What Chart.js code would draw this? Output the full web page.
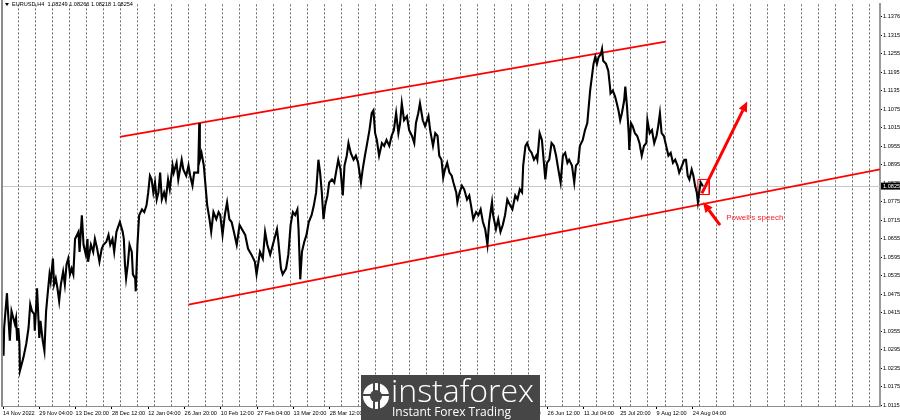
<!DOCTYPE html>
<html>
<head>
<meta charset="utf-8">
<title>EURUSD H4</title>
<script src="https://cdn.jsdelivr.net/npm/chart.js@4.4.0/dist/chart.umd.min.js"></script>
<style>
  html, body { margin: 0; padding: 0; background: #fff; }
</style>
</head>
<body>
<canvas id="price-chart" width="900" height="420"></canvas>
<script>
"use strict";

// H4 bars counted from 14 Nov 2022 and the price
const bars = [
  0, 1, 2, 7, 8, 12, 15, 21, 23, 25, 27, 29, 30, 36, 41, 45, 48, 51, 55, 56,
  58, 60, 64, 66, 70, 73, 76, 78, 82, 84, 88, 90, 93, 96, 99, 102, 106, 109, 112, 115,
  118, 121, 124, 127, 133, 135, 139, 142, 146, 149, 150, 155, 159, 162, 166, 170, 174, 177, 182, 186,
  189, 193, 196, 200, 206, 211, 213, 215, 217, 220, 223, 227, 229, 233, 234, 237, 238, 240, 245, 249,
  253, 256, 259, 262, 265, 268, 271, 274, 277, 280, 284, 287, 291, 294, 299, 301, 306, 309, 315, 318,
  323, 327, 330, 334, 337, 344, 346, 347, 350, 354, 358, 360, 364, 367, 371, 376, 380, 383,
  387, 391, 395, 399, 403, 407, 412, 417, 421, 427, 432, 438, 444, 447, 453, 458, 462, 466, 471, 477,
  483, 485, 490, 493, 499, 503, 507, 511, 515, 519, 521, 524, 527, 531, 535, 539, 544, 548, 552, 556,
  559, 562, 565, 568, 572, 575, 580, 584, 587, 591, 595, 599, 602, 606, 609, 613, 618, 622, 626, 631,
  634, 638, 642, 646, 650, 653, 656, 659, 663, 668, 672, 676, 681, 685, 689, 693, 697, 700, 703, 707,
  712, 716, 721, 725, 728, 732, 735, 740, 744, 750,
  753, 758, 762, 766, 769, 773, 776, 779, 783, 787, 791, 794, 799, 801, 805, 809, 813, 818, 822, 825,
  829, 834, 838, 842, 846, 850, 854, 857, 862, 864, 869, 873, 877, 881, 885, 889, 894, 898, 903, 907,
  911, 915, 917, 921, 924, 928, 932, 936, 940, 942, 946, 950, 953, 956, 959, 963, 967, 971, 975, 979,
  983, 987, 991, 995, 998, 1003, 1007, 1010, 1014, 1017, 1022, 1026, 1030,
  1035, 1041, 1044, 1047, 1050, 1054, 1056, 1058, 1063, 1067, 1070, 1071, 1075, 1079, 1082, 1085, 1088, 1091, 1095, 1097,
  1100, 1103, 1104, 1107, 1110, 1114, 1118, 1122, 1126, 1130, 1134, 1136, 1140, 1144, 1148, 1152, 1155, 1158, 1161, 1165,
  1169, 1173, 1177, 1181, 1185, 1189, 1192, 1197, 1201, 1204, 1207, 1210, 1214, 1217, 1220, 1223, 1225, 1228, 1230, 1234
];
const prices = [
  1.0324, 1.0275, 1.0365, 1.0478, 1.0442, 1.0324, 1.0420, 1.0378, 1.0397, 1.0324, 1.0365, 1.0314, 1.0227, 1.0269, 1.0314, 1.0365, 1.0442, 1.0420, 1.0410, 1.0356,
  1.0420, 1.0494, 1.0333, 1.0388, 1.0324, 1.0291, 1.0420, 1.0461, 1.0539, 1.0516, 1.0590, 1.0506, 1.0526, 1.0494, 1.0452, 1.0506, 1.0548, 1.0506, 1.0571, 1.0590,
  1.0539, 1.0558, 1.0539, 1.0654, 1.0677, 1.0612, 1.0731, 1.0635, 1.0603, 1.0654, 1.0580, 1.0635, 1.0612, 1.0654, 1.0622, 1.0580, 1.0622, 1.0635, 1.0644, 1.0667,
  1.0635, 1.0654, 1.0612, 1.0677, 1.0709, 1.0677, 1.0654, 1.0571, 1.0526, 1.0571, 1.0635, 1.0612, 1.0539, 1.0526, 1.0484, 1.0635, 1.0667, 1.0731, 1.0750, 1.0741,
  1.0763, 1.0805, 1.0859, 1.0847, 1.0805, 1.0837, 1.0782, 1.0805, 1.0869, 1.0782, 1.0805, 1.0782, 1.0847, 1.0815, 1.0892, 1.0869, 1.0901, 1.0847, 1.0911, 1.0879,
  1.0859, 1.0892, 1.0859, 1.0827, 1.0869, 1.0869, 1.1030, 1.0911, 1.0933, 1.0892, 1.0805, 1.0763, 1.0718, 1.0677, 1.0741, 1.0718, 1.0741, 1.0731,
  1.0667, 1.0731, 1.0773, 1.0718, 1.0709, 1.0677, 1.0635, 1.0699, 1.0686, 1.0667, 1.0622, 1.0603, 1.0580, 1.0539, 1.0612, 1.0590, 1.0677, 1.0635, 1.0603, 1.0644,
  1.0686, 1.0654, 1.0558, 1.0539, 1.0558, 1.0603, 1.0699, 1.0741, 1.0731, 1.0750, 1.0686, 1.0523, 1.0612, 1.0644, 1.0667, 1.0709, 1.0731, 1.0763, 1.0805, 1.0911,
  1.0869, 1.0805, 1.0718, 1.0763, 1.0795, 1.0837, 1.0847, 1.0837, 1.0869, 1.0911, 1.0879, 1.0795, 1.0892, 1.0924, 1.0965, 1.0933, 1.0911, 1.0924, 1.0901, 1.0837,
  1.0879, 1.0924, 1.0965, 1.1007, 1.1062, 1.1071, 1.0997, 1.0975, 1.0924, 1.0965, 1.0956, 1.0975, 1.0956, 1.0988, 1.1007, 1.1062, 1.0997, 1.1030, 1.1094, 1.1039,
  1.1052, 1.1007, 1.0988, 1.0965, 1.1030, 1.1062, 1.1094, 1.1039, 1.1020, 1.1052,
  1.1007, 1.0956, 1.0997, 1.0988, 1.0924, 1.0911, 1.0853, 1.0879, 1.0901, 1.0869, 1.0859, 1.0837, 1.0805, 1.0773, 1.0805, 1.0827, 1.0815, 1.0782, 1.0795, 1.0763,
  1.0718, 1.0741, 1.0731, 1.0750, 1.0709, 1.0686, 1.0635, 1.0709, 1.0773, 1.0731, 1.0686, 1.0718, 1.0677, 1.0699, 1.0731, 1.0782, 1.0763, 1.0750, 1.0795, 1.0782,
  1.0815, 1.0805, 1.0892, 1.0956, 1.0965, 1.0943, 1.0933, 1.0911, 1.0924, 1.0911, 1.0997, 1.0975, 1.0911, 1.0847, 1.0901, 1.0911, 1.0965, 1.0956, 1.0924, 1.0879,
  1.0837, 1.0924, 1.0933, 1.0901, 1.0911, 1.0892, 1.0837, 1.0892, 1.0901, 1.0956, 1.0975, 1.1007, 1.1030,
  1.1135, 1.1222, 1.1244, 1.1222, 1.1244, 1.1254, 1.1270, 1.1232, 1.1222, 1.1200, 1.1148, 1.1126, 1.1135, 1.1116, 1.1094, 1.1071, 1.1039, 1.1062, 1.1103, 1.1148,
  1.1084, 1.0997, 1.0943, 1.1030, 1.1020, 1.0997, 1.0988, 1.0965, 1.0924, 1.0956, 1.0965, 1.1039, 1.0997, 1.1007, 1.0965, 1.0988, 1.1020, 1.1062, 1.0997, 1.0988,
  1.0956, 1.0924, 1.0933, 1.0901, 1.0911, 1.0892, 1.0869, 1.0892, 1.0911, 1.0911, 1.0859, 1.0847, 1.0879, 1.0859, 1.0827, 1.0805, 1.0773, 1.0815, 1.0837, 1.0825
];

// trend channel drawn on the chart
const upperBars = [206, 1168];
const upperPrices = [1.0985, 1.1294];
const lowerBars = [327, 1546];
const lowerPrices = [1.0441, 1.0880];

// small box, arrows and note near the last bars
const boxBars = [1225, 1245];
const boxPrices = [1.0798, 1.0847];
const arrowUpBars = [1232, 1312];
const arrowUpPrices = [1.0802, 1.1100];
const arrowNoteBars = [1264, 1234];
const arrowNotePrices = [1.0699, 1.0773];
const noteText = "Powell's speech";
const noteBar = 1275;
const notePrice = 1.0721;

// header and last price
const headerText = "EURUSD,H4  1.08249 1.08266 1.08218 1.08254";
const lastPrice = 1.08254;
const lastLabel = "1.0825";

// axis labels
const xTickBars = [0, 64, 128, 192, 256, 320, 384, 448, 512, 576, 640, 704, 768, 832, 896, 960, 1024, 1088, 1152, 1216];
const xTickLabels = ["14 Nov 2022", "29 Nov 04:00", "13 Dec 20:00", "28 Dec 12:00", "12 Jan 04:00", "26 Jan 20:00",
  "10 Feb 12:00", "27 Feb 04:00", "13 Mar 20:00", "28 Mar 12:00", "12 Apr 04:00", "26 Apr 20:00", "11 May 12:00",
  "26 May 04:00", "9 Jun 20:00", "26 Jun 12:00", "11 Jul 04:00", "25 Jul 20:00", "9 Aug 12:00", "24 Aug 04:00"];
const yTickLabels = ["1.1376", "1.1315", "1.1255", "1.1195", "1.1135", "1.1075", "1.1015", "1.0955", "1.0895", "1.0835",
  "1.0775", "1.0715", "1.0655", "1.0595", "1.0535", "1.0475", "1.0415", "1.0355", "1.0295", "1.0235", "1.0175", "1.0115"];

const xMax = 1546;
const yMin = 1.0112;
const yMax = 1.1415;

// weekly grid lines, one every 30 bars
let gridBars = [];
for (let b = 27; b < xMax; b += 30) {
    gridBars.push(b);
}

const axisFont = { family: "'Liberation Sans', Arial, sans-serif", size: 5.6 };

function toPoints(xs, ys) {
    return xs.map((x, i) => ({ x: x, y: ys[i] }));
}

function drawArrow(ctx, x1, y1, x2, y2, width, head) {
    let ang = Math.atan2(y2 - y1, x2 - x1);
    let bx = x2 - Math.cos(ang) * head;
    let by = y2 - Math.sin(ang) * head;
    ctx.beginPath();
    ctx.moveTo(x1, y1);
    ctx.lineTo(bx, by);
    ctx.lineWidth = width;
    ctx.stroke();
    ctx.beginPath();
    ctx.moveTo(x2, y2);
    ctx.lineTo(bx + Math.sin(ang) * head * 0.45, by - Math.cos(ang) * head * 0.45);
    ctx.lineTo(bx - Math.sin(ang) * head * 0.45, by + Math.cos(ang) * head * 0.45);
    ctx.closePath();
    ctx.fill();
}

// bid line, frame, price box, arrows and the watermark
const framePlugin = {
    id: "frame",
    beforeDatasetsDraw(chart) {
        const { ctx, chartArea, scales } = chart;
        let y = Math.round(scales.y.getPixelForValue(lastPrice)) + 0.5;
        ctx.save();
        ctx.strokeStyle = "#c8c8c8";
        ctx.lineWidth = 1;
        ctx.beginPath();
        ctx.moveTo(chartArea.left, y);
        ctx.lineTo(chartArea.right, y);
        ctx.stroke();
        ctx.restore();
    },
    afterDatasetsDraw(chart) {
        const { ctx, scales } = chart;
        const sx = scales.x, sy = scales.y;
        ctx.save();
        ctx.strokeStyle = "#ff0000";
        ctx.fillStyle = "#ff0000";
        drawArrow(ctx, sx.getPixelForValue(arrowUpBars[0]), sy.getPixelForValue(arrowUpPrices[0]),
            sx.getPixelForValue(arrowUpBars[1]), sy.getPixelForValue(arrowUpPrices[1]), 3, 10);
        drawArrow(ctx, sx.getPixelForValue(arrowNoteBars[0]), sy.getPixelForValue(arrowNotePrices[0]),
            sx.getPixelForValue(arrowNoteBars[1]), sy.getPixelForValue(arrowNotePrices[1]), 3, 10);
        ctx.font = "8px 'Liberation Sans', Arial, sans-serif";
        ctx.textBaseline = "middle";
        ctx.fillStyle = "#ff2020";
        ctx.fillText(noteText, sx.getPixelForValue(noteBar), sy.getPixelForValue(notePrice));
        ctx.restore();
    },
    afterDraw(chart) {
        const { ctx, chartArea, scales } = chart;
        ctx.save();
        // left frame line
        ctx.fillStyle = "#8c8c8c";
        ctx.fillRect(1, 0, 2, chartArea.bottom + 1);
        // header text
        ctx.fillStyle = "#000";
        ctx.font = "5.6px 'Liberation Sans', Arial, sans-serif";
        ctx.textBaseline = "middle";
        ctx.beginPath();
        ctx.moveTo(5, 3);
        ctx.lineTo(9, 3);
        ctx.lineTo(7, 6);
        ctx.closePath();
        ctx.fill();
        ctx.fillText(headerText, 12, 4.5);
        // last price box
        let y = scales.y.getPixelForValue(lastPrice);
        ctx.fillStyle = "#000";
        ctx.fillRect(chartArea.right + 1, y - 3.5, 20, 7);
        ctx.fillStyle = "#fff";
        ctx.textAlign = "left";
        ctx.fillText(lastLabel, chartArea.right + 3, y);
        // watermark
        ctx.fillStyle = "#464646";
        ctx.fillRect(361, 375, 179, 45);
        ctx.fillStyle = "#fff";
        ctx.beginPath();
        ctx.arc(376, 396, 13, 0, Math.PI * 2);
        ctx.fill();
        ctx.fillStyle = "#464646";
        ctx.fillRect(373, 382, 2, 28);
        ctx.fillRect(378, 382, 2, 28);
        ctx.fillRect(363, 394, 26, 2);
        ctx.beginPath();
        ctx.arc(376, 396, 6, 0, Math.PI * 2);
        ctx.fill();
        ctx.fillStyle = "#fff";
        ctx.font = "300 32px 'Open Sans', sans-serif";
        ctx.textBaseline = "alphabetic";
        ctx.fillText("instaforex", 391, 402);
        ctx.font = "12px 'Open Sans', sans-serif";
        ctx.fillText("Instant Forex Trading", 392, 416);
        ctx.restore();
    }
};

const chartEl = document.getElementById("price-chart");

new Chart(chartEl, {
    type: "line",
    data: {
        datasets: [
            {
                data: toPoints(bars, prices),
                borderColor: "#000",
                borderWidth: 2.1,
                pointRadius: 0,
                tension: 0
            },
            {
                data: toPoints(upperBars, upperPrices),
                borderColor: "#ff0000",
                borderWidth: 1.8,
                pointRadius: 0
            },
            {
                data: toPoints(lowerBars, lowerPrices),
                borderColor: "#ff0000",
                borderWidth: 1.8,
                pointRadius: 0
            },
            {
                data: toPoints([boxBars[0], boxBars[1], boxBars[1], boxBars[0], boxBars[0]],
                    [boxPrices[1], boxPrices[1], boxPrices[0], boxPrices[0], boxPrices[1]]),
                borderColor: "#ff0000",
                borderWidth: 1,
                pointRadius: 0
            }
        ]
    },
    options: {
        responsive: false,
        devicePixelRatio: 1,
        animation: false,
        layout: { padding: { left: 3, top: 0, right: 0, bottom: 0 } },
        plugins: {
            legend: { display: false },
            tooltip: { enabled: false }
        },
        scales: {
            x: {
                type: "linear",
                min: 0,
                max: xMax,
                position: "bottom",
                afterBuildTicks: (s) => { s.ticks = xTickBars.map(v => ({ value: v })); },
                afterFit: (s) => { s.height = 14; },
                ticks: {
                    callback: (v, i) => xTickLabels[i],
                    align: "start",
                    autoSkip: false,
                    maxRotation: 0,
                    font: axisFont,
                    color: "#000",
                    padding: 1
                },
                grid: { drawOnChartArea: false, tickLength: 3, color: "#000" },
                border: { color: "#8c8c8c", width: 1 }
            },
            xg: {
                type: "linear",
                min: 0,
                max: xMax,
                position: "bottom",
                afterBuildTicks: (s) => { s.ticks = gridBars.map(v => ({ value: v })); },
                afterFit: (s) => { s.height = 0; },
                ticks: { display: false },
                grid: { color: "#6a6a6a", lineWidth: 1, drawTicks: false },
                border: { display: false, dash: [2, 2] }
            },
            y: {
                type: "linear",
                min: yMin,
                max: yMax,
                position: "right",
                afterBuildTicks: (s) => { s.ticks = yTickLabels.map(t => ({ value: parseFloat(t) })); },
                afterFit: (s) => { s.width = 20; },
                ticks: {
                    callback: (v, i) => yTickLabels[i],
                    autoSkip: false,
                    font: axisFont,
                    color: "#000",
                    padding: 1
                },
                grid: { drawOnChartArea: false, tickLength: 2, color: "#000" },
                border: { color: "#9a9a9a", width: 2 }
            }
        }
    },
    plugins: [framePlugin]
});
</script>
</body>
</html>
